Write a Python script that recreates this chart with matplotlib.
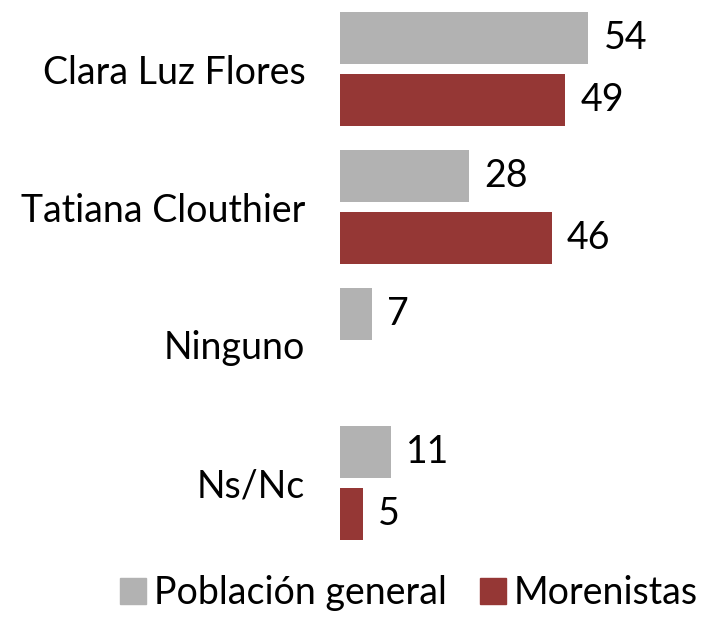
import numpy as np
import matplotlib
matplotlib.use("Agg")
import matplotlib.pyplot as plt
from matplotlib.patches import Patch

categories = ["Clara Luz Flores", "Tatiana Clouthier", "Ninguno", "Ns/Nc"]
poblacion = [54, 28, 7, 11]
morenistas = [49, 46, None, 5]
series_names = ["Población general", "Morenistas"]
colors = ["#b2b2b2", "#953735"]

plt.rcParams['font.family'] = ['Lato', 'DejaVu Sans']
FS = 27

fig = plt.figure(figsize=(7.05, 6.17), dpi=100)
W, H = 705, 617
ax = fig.add_axes([340 / W, (H - 552) / H, 365 / W, 552 / H])

y = np.arange(len(categories))
h = 52 / 138
off = 31 / 138

for vals, sign, col in [(poblacion, -1, colors[0]), (morenistas, 1, colors[1])]:
    for i, v in enumerate(vals):
        if v is None:
            continue
        ax.barh(y[i] + sign * off, v, height=h, color=col)
        ax.annotate(f"{v}", (v, y[i] + sign * off), xytext=(11, 0),
                    textcoords="offset points", va="center", ha="left",
                    fontsize=FS, color="black")

ax.set_xlim(0, 365 / 4.6)
ax.set_ylim(3.5, -0.5)
ax.set_yticks(y)
ax.set_yticklabels(categories, fontsize=FS)
ax.tick_params(axis="y", length=0, pad=25)
ax.set_xticks([])
for s in ax.spines.values():
    s.set_visible(False)

handles = [Patch(color=c) for c in colors]
fig.legend(handles, series_names, loc="lower center", bbox_to_anchor=(0.58, -0.045),
           ncol=2, frameon=False, fontsize=FS, handlelength=0.7, handleheight=0.7,
           handletextpad=0.2, columnspacing=0.9)

fig.savefig("out.png", dpi=100)
